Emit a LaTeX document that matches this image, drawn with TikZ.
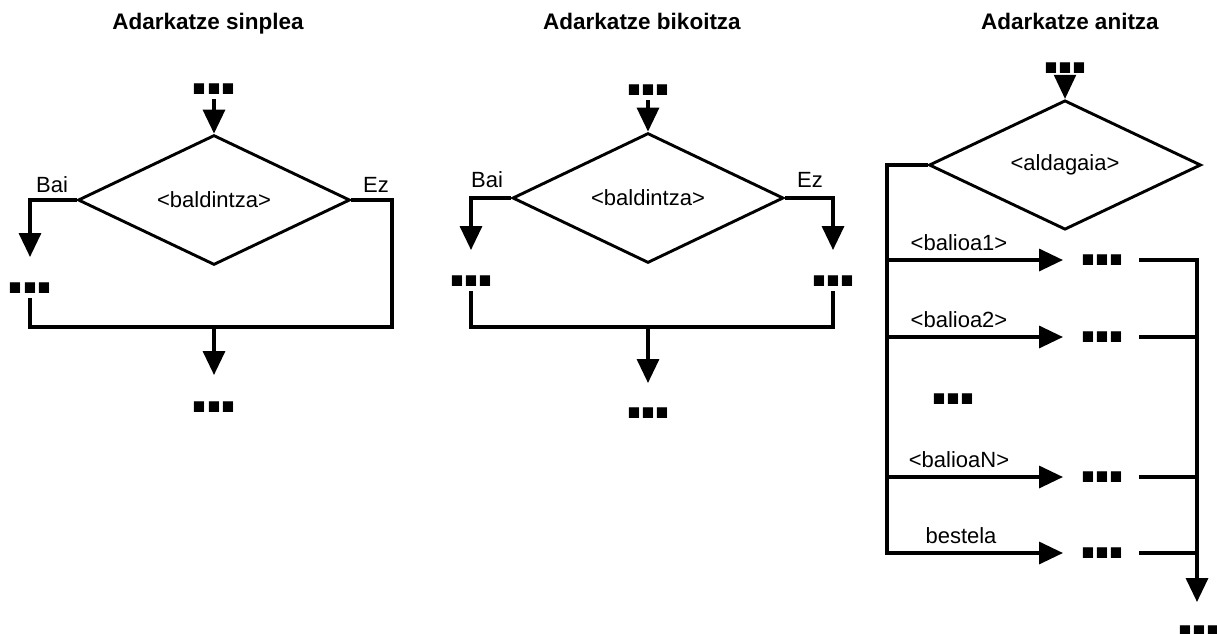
\documentclass[tikz,border=0pt]{standalone}
\usepackage{fontspec}
\setmainfont{Liberation Sans}
\usetikzlibrary{arrows.meta,shapes.geometric}
% three square dots, set as bold periods pulled close together
\newcommand\blockdots{{\fontsize{72}{72}\selectfont\bfseries.\kern-6pt.\kern-6pt.}}
\begin{document}
\begin{tikzpicture}[x=1pt,y=-1pt,
  conn/.style={line width=3.4pt},
  tip/.style={-{Triangle[length=24pt,width=22pt]}},
  arr/.style={conn,tip},
  dec/.style={diamond,draw,line width=2.9pt,inner sep=0pt,font=\fontsize{22}{26}\selectfont},
  dots/.style={inner sep=0pt,outer sep=5pt},
  lbl/.style={font=\fontsize{22}{26}\selectfont,inner sep=0pt,anchor=base},
  title/.style={font=\fontsize{22.5}{27}\selectfont\bfseries,inner sep=0pt,anchor=base}]
\useasboundingbox (0,0) rectangle (1217,633);

% ---------- titles ----------
\node[title] (h1) at (208,29) {Adarkatze sinplea};
\node[title] (h2) at (642,29) {Adarkatze bikoitza};
\node[title] (h3) at (1070,29) {Adarkatze anitza};

% ---------- simple branch ----------
\node[dots] (t1) at (214,89) {\blockdots};
\node[dec,minimum width=272pt,minimum height=85pt] (d1) at (214,200) {<baldintza>};
\draw[arr] (t1) -- (d1.north);
\coordinate (y1) at (30,257);
\draw[arr] (d1.west) -| (y1);
\node[dots] (l1) at (30,288) {\blockdots};
\coordinate (c1) at (392,327);
\draw[conn] (l1.south) |- (c1) |- (d1.east);
\coordinate (j1) at (214,327);
\coordinate (e1) at (214,375);
\draw[arr] (j1) -- (e1);
\node[dots] (b1) at (214,407) {\blockdots};
\node[lbl] (bai1) at (52,192) {Bai};
\node[lbl] (ez1) at (376,192) {Ez};

% ---------- double branch ----------
\node[dots] (t2) at (648,90) {\blockdots};
\node[dec,minimum width=271pt,minimum height=87pt] (d2) at (648,198) {<baldintza>};
\draw[arr] (t2) -- (d2.north);
\coordinate (y2l) at (471,250);
\coordinate (y2r) at (833,250);
\draw[arr] (d2.west) -| (y2l);
\draw[arr] (d2.east) -| (y2r);
\node[dots] (l2) at (471,281) {\blockdots};
\node[dots] (r2) at (833,281) {\blockdots};
\coordinate (c2) at (833,327);
\draw[conn] (l2.south) |- (c2) -- (r2.south);
\coordinate (j2) at (648,327);
\coordinate (e2) at (648,383);
\draw[arr] (j2) -- (e2);
\node[dots] (b2) at (648,413) {\blockdots};
\node[lbl] (bai2) at (487,187) {Bai};
\node[lbl] (ez2) at (810,187) {Ez};

% ---------- multiple branch ----------
\node[dots] (t3) at (1065,68) {\blockdots};
\node[dec,minimum width=272pt,minimum height=86pt] (d3) at (1065,165) {<aldagaia>};
\draw[line width=2.2pt,tip] (t3) -- (d3.north);

% left spine, ending in the last (bestela) branch
\coordinate (sb) at (887,553);
\coordinate (ab) at (1063,553);
\draw[arr] (d3.west) -| (sb) -- (ab);

% value branches
\coordinate (s1) at (887,260);  \coordinate (a1) at (1063,260);
\coordinate (s2) at (887,337);  \coordinate (a2) at (1063,337);
\coordinate (sn) at (887,477);  \coordinate (an) at (1063,477);
\draw[arr] (s1) -- (a1);
\draw[arr] (s2) -- (a2);
\draw[arr] (sn) -- (an);

\node[dots] (p1) at (1102,260) {\blockdots};
\node[dots] (p2) at (1102,337) {\blockdots};
\node[dots] (pn) at (1102,477) {\blockdots};
\node[dots] (pb) at (1102,553) {\blockdots};
\node[dots] (pm) at (953,399) {\blockdots};

\node[lbl] (v1) at (959,250) {<balioa1>};
\node[lbl] (v2) at (959,327) {<balioa2>};
\node[lbl] (vn) at (959,467) {<balioaN>};
\node[lbl] (vb) at (961,543) {bestela};

% right spine collecting the branches
\coordinate (q1) at (1139,260);
\coordinate (q2) at (1139,337); \coordinate (r2) at (1197,337);
\coordinate (qn) at (1139,477); \coordinate (rn) at (1197,477);
\coordinate (qb) at (1139,553); \coordinate (rb) at (1197,553);
\coordinate (ft) at (1197,602);
\draw[arr] (q1) -| (ft);
\draw[conn] (q2) -- (r2);
\draw[conn] (qn) -- (rn);
\draw[conn] (qb) -- (rb);
\node[dots] (b3) at (1199,631) {\blockdots};
\end{tikzpicture}
\end{document}
